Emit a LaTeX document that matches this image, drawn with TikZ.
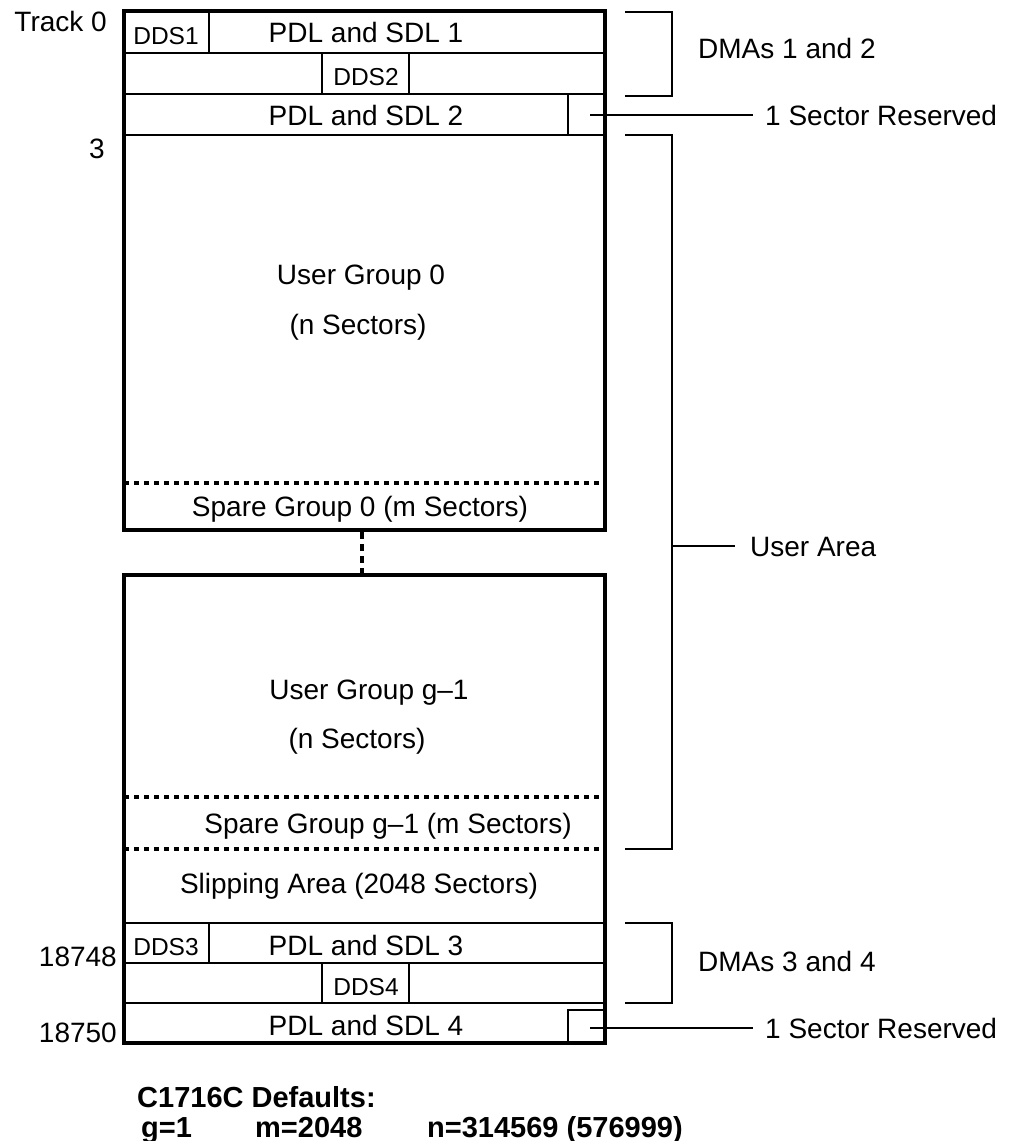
\documentclass[tikz,border=0pt]{standalone}
\usepackage{fontspec}
\setmainfont{Liberation Sans}
\usetikzlibrary{positioning, calc}

\begin{document}
\begin{tikzpicture}[x=1pt, y=-1pt,
    txt/.style={font=\fontsize{28}{33}\selectfont, inner sep=0pt, anchor=base},
    smalltxt/.style={font=\fontsize{24.5}{29}\selectfont, inner sep=0pt, anchor=base},
    boldtxt/.style={font=\fontsize{29}{34}\selectfont\bfseries, inner sep=0pt, anchor=base west},
    areabox/.style={line width=3.7pt},
    sepline/.style={line width=2pt},
    dotline/.style={line width=3.5pt, dash pattern=on 5pt off 5pt},
    bracket/.style={line width=2pt}]

    \useasboundingbox (0,0) rectangle (1010,1141);
    \def\xl{124}
    \def\xr{605}

    % Upper block (tracks 0..3 and user group 0)
    \foreach \y in {53,94,135} {
        \draw[sepline] (\xl,\y) -- (\xr,\y);
    }
    \draw[sepline] (\xl,11) rectangle (209,53);
    \draw[sepline] (322,53) rectangle (409,94);
    \draw[sepline] (568,94) rectangle (\xr,135);
    \draw[dotline] (\xl,483) -- (\xr,483);
    \draw[areabox] (\xl,11) rectangle (\xr,530);

    % Gap between the blocks
    \draw[dotline, dash pattern=on 7pt off 5pt] (362,532) -- (362,575);

    % Lower block (user group g-1, slipping area, DMAs 3 and 4)
    \foreach \y in {797,849} {
        \draw[dotline] (\xl,\y) -- (\xr,\y);
    }
    \foreach \y in {923,963,1003} {
        \draw[sepline] (\xl,\y) -- (\xr,\y);
    }
    \draw[sepline] (\xl,923) rectangle (209,963);
    \draw[sepline] (322,963) rectangle (409,1003);
    \draw[sepline] (568,1010) rectangle (\xr,1043);
    \draw[areabox] (\xl,575) rectangle (\xr,1043);

    % Track numbers
    \node[txt, anchor=base east] (trk0) at (107,31) {Track 0};
    \node[txt, anchor=base east] (trk3) at (105,158) {3};
    \node[txt, anchor=base east] (trk18748) at (117,966) {18748};
    \node[txt, anchor=base east] (trk18750) at (117,1042) {18750};

    % Texts inside the blocks
    \node[smalltxt] (dds1) at (166,44) {DDS1};
    \node[smalltxt] (dds2) at (366,85) {DDS2};
    \node[smalltxt] (dds3) at (166,955) {DDS3};
    \node[smalltxt] (dds4) at (366,995) {DDS4};
    \node[txt] (pdl1) at (366,42) {PDL and SDL 1};
    \node[txt] (pdl2) at (366,125) {PDL and SDL 2};
    \node[txt] (pdl3) at (366,955) {PDL and SDL 3};
    \node[txt] (pdl4) at (366,1035) {PDL and SDL 4};
    \node[txt] (ug0) at (361,284) {User Group 0};
    \node[txt] (ug0n) at (358,334) {(n Sectors)};
    \node[txt] (sg0) at (360,516) {Spare Group 0 (m Sectors)};
    \node[txt] (ugg) at (369,699) {User Group g\textendash 1};
    \node[txt] (uggn) at (357,748) {(n Sectors)};
    \node[txt] (sgg) at (388,833) {Spare Group g\textendash 1 (m Sectors)};
    \node[txt] (slip) at (359,893) {Slipping Area (2048 Sectors)};

    % Brackets and labels on the right
    \draw[bracket] (625,12) -- (672,12) -- (672,96) -- (625,96);
    \draw[bracket] (625,135) -- (672,135) -- (672,849) -- (625,849);
    \draw[bracket] (625,923) -- (672,923) -- (672,1003) -- (625,1003);
    \node[txt, anchor=base west] (dma12) at (698,58) {DMAs 1 and 2};
    \node[txt, anchor=base west] (dma34) at (698,971) {DMAs 3 and 4};
    \node[txt, anchor=base west] (ualbl) at (750,556) {User Area};
    \node[txt, anchor=base west] (res1lbl) at (765,125) {1 Sector Reserved};
    \node[txt, anchor=base west] (res2lbl) at (765,1038) {1 Sector Reserved};
    \coordinate (uatick) at (672,546);
    \coordinate (res1) at (590,115);
    \coordinate (res2) at (590,1028);
    \draw[bracket, shorten >=15pt] (uatick) -- (uatick -| ualbl.west);
    \draw[sepline, shorten >=12pt] (res1) -- (res1 -| res1lbl.west);
    \draw[sepline, shorten >=12pt] (res2) -- (res2 -| res2lbl.west);

    % Defaults
    \node[boldtxt] (defhead) at (137,1107) {C1716C Defaults:};
    \node[boldtxt] (defg) at (141,1137) {g=1};
    \node[boldtxt] (defm) at (255,1137) {m=2048};
    \node[boldtxt] (defn) at (427,1137) {n=314569 (576999)};
\end{tikzpicture}
\end{document}
